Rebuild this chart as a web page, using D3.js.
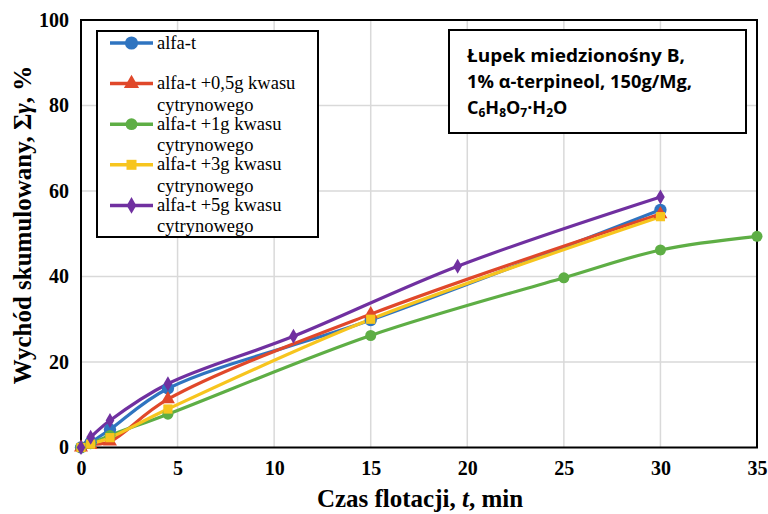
<!DOCTYPE html>
<html><head><meta charset="utf-8">
<script src="https://cdn.jsdelivr.net/npm/d3@7/dist/d3.min.js"></script>
<style>body{margin:0;background:#fff}svg{display:block}</style>
</head><body><svg id="c" width="768" height="514"></svg>
<script>
const seriesNames = ["alfa-t", "alfa-t +0,5g kwasu cytrynowego", "alfa-t +1g kwasu cytrynowego", "alfa-t +3g kwasu cytrynowego", "alfa-t +5g kwasu cytrynowego"];
const timeA = [0, 0.5, 1.5, 4.5, 15, 30];
const timeG = [0, 0.5, 1.5, 4.5, 15, 25, 30, 35];
const timeP = [0, 0.5, 1.5, 4.5, 11, 19.5, 30];
const valBlue = [0, 1.2, 4.2, 13.8, 29.8, 55.6];
const valRed = [0, 0.6, 1.4, 11.3, 31.2, 54.6];
const valGreen = [0, 0.9, 2.8, 7.8, 26.2, 39.7, 46.2, 49.4];
const valYellow = [0, 0.8, 2.3, 9.0, 30.0, 54.0];
const valPurple = [0, 2.4, 6.3, 14.9, 26.0, 42.4, 58.6];
const xTicks = [0, 5, 10, 15, 20, 25, 30, 35];
const yTicks = [0, 20, 40, 60, 80, 100];
const colors = ["#2f74c0", "#e0482a", "#5eae45", "#f7c51e", "#7030a0"];
const symbols = [d3.symbolCircle, d3.symbolTriangle, d3.symbolCircle, d3.symbolSquare, d3.symbolDiamond];
const series = [
  {t: timeA, v: valBlue}, {t: timeA, v: valRed}, {t: timeG, v: valGreen},
  {t: timeA, v: valYellow}, {t: timeP, v: valPurple}
];

const svg = d3.select("#c");
const L = 81, R = 757, T = 20, B = 447.5;
const x = d3.scaleLinear().domain([0, 35]).range([L, R]);
const y = d3.scaleLinear().domain([0, 100]).range([B, T]);
const serif = "'Liberation Serif', 'Times New Roman', serif";

// grid
svg.append("g").selectAll("line").data(xTicks.slice(1, -1)).join("line")
  .attr("x1", d => x(d)).attr("x2", d => x(d)).attr("y1", T).attr("y2", B)
  .attr("stroke", "#d9d9d9").attr("stroke-width", 1.5);
svg.append("g").selectAll("line").data(yTicks.slice(1, -1)).join("line")
  .attr("y1", d => y(d)).attr("y2", d => y(d)).attr("x1", L).attr("x2", R)
  .attr("stroke", "#d9d9d9").attr("stroke-width", 1.5);

// axes
const xa = svg.append("g").attr("transform", `translate(0,${B})`)
  .call(d3.axisBottom(x).tickValues(xTicks).tickSize(0).tickPadding(13));
const ya = svg.append("g").attr("transform", `translate(${L},0)`)
  .call(d3.axisLeft(y).tickValues(yTicks).tickSize(0).tickPadding(12));
[xa, ya].forEach(a => {
  a.select(".domain").remove();
  a.selectAll("text").attr("font-family", serif).attr("font-weight", "bold")
    .attr("font-size", 20).attr("fill", "#000");
});

// frame
svg.append("rect").attr("x", L).attr("y", T).attr("width", R - L).attr("height", B - T)
  .attr("fill", "none").attr("stroke", "#000").attr("stroke-width", 2);

// lines
const line = d3.line().x(d => x(d[0])).y(d => y(d[1])).curve(d3.curveCatmullRom.alpha(0.5));
series.forEach((s, i) => {
  const pts = s.t.map((t, j) => [t, s.v[j]]);
  svg.append("path").datum(pts).attr("d", line).attr("fill", "none")
    .attr("stroke", colors[i]).attr("stroke-width", 3.2);
});
const mSize = [120, 85, 95, 85, 65];
series.forEach((s, i) => {
  const pts = s.t.map((t, j) => [t, s.v[j]]);
  svg.append("g").selectAll("path").data(pts).join("path")
    .attr("transform", d => `translate(${x(d[0])},${y(d[1])})`)
    .attr("d", d3.symbol().type(symbols[i]).size(mSize[i])).attr("fill", colors[i]);
});

// legend
const lg = svg.append("g");
lg.append("rect").attr("x", 97).attr("y", 31).attr("width", 221).attr("height", 206)
  .attr("fill", "#fff").attr("stroke", "#000").attr("stroke-width", 2);
seriesNames.forEach((name, i) => {
  const yy = 43 + i * 40.6;
  lg.append("line").attr("x1", 110).attr("x2", 153).attr("y1", yy).attr("y2", yy)
    .attr("stroke", colors[i]).attr("stroke-width", 3.5);
  lg.append("path").attr("transform", `translate(131.5,${yy})`)
    .attr("d", d3.symbol().type(symbols[i]).size(mSize[i] + 15)).attr("fill", colors[i]);
  const words = name.split(" ");
  const first = words.length > 1 ? words.slice(0, 3).join(" ") : name;
  const second = words.length > 3 ? words.slice(3).join(" ") : null;
  const tx = lg.append("text").attr("x", 157).attr("y", yy + 5.5)
    .attr("font-family", serif).attr("font-size", 18.5).attr("fill", "#000");
  tx.append("tspan").attr("font-family", serif).text(first);
  if (second) tx.append("tspan").attr("font-family", serif).attr("x", 157).attr("dy", 21.5).text(second);
});

// text box
const tb = svg.append("g");
tb.append("rect").attr("x", 449).attr("y", 30).attr("width", 297).attr("height", 103)
  .attr("fill", "#fff").attr("stroke", "#000").attr("stroke-width", 2);
const fs = 18;
function tbText(yy, len) {
  const t = tb.append("text").attr("x", 467).attr("y", yy).attr("fill", "#000")
    .attr("font-family", "Open Sans").attr("font-weight", "bold").attr("font-size", fs);
  if (len) t.attr("textLength", len).attr("lengthAdjust", "spacingAndGlyphs");
  return t;
}
tbText(62, 218).text("Łupek miedzionośny B,");
tbText(88, 225).text("1% α-terpineol, 150g/Mg,");
const t3 = tbText(114);
const parts = [["C", 0], ["6", 1], ["H", 0], ["8", 1], ["O", 0], ["7", 1], ["·H", 0], ["2", 1], ["O", 0]];
parts.forEach(([s, sub]) => {
  t3.append("tspan").attr("font-size", sub ? 12 : fs).attr("baseline-shift", sub ? "-3" : null).text(s);
});

// axis titles
svg.append("text").attr("x", 420).attr("y", 507).attr("text-anchor", "middle")
  .attr("font-family", serif).attr("font-weight", "bold").attr("font-size", 25)
  .attr("fill", "#000").html("Czas flotacji, <tspan font-style='italic'>t</tspan>, min");
svg.append("text").attr("transform", "translate(31,225) rotate(-90)").attr("text-anchor", "middle")
  .attr("font-family", serif).attr("font-weight", "bold").attr("font-size", 25)
  .attr("fill", "#000").html("Wychód skumulowany, Σ<tspan font-style='italic'>γ</tspan>, %");
</script></body></html>
